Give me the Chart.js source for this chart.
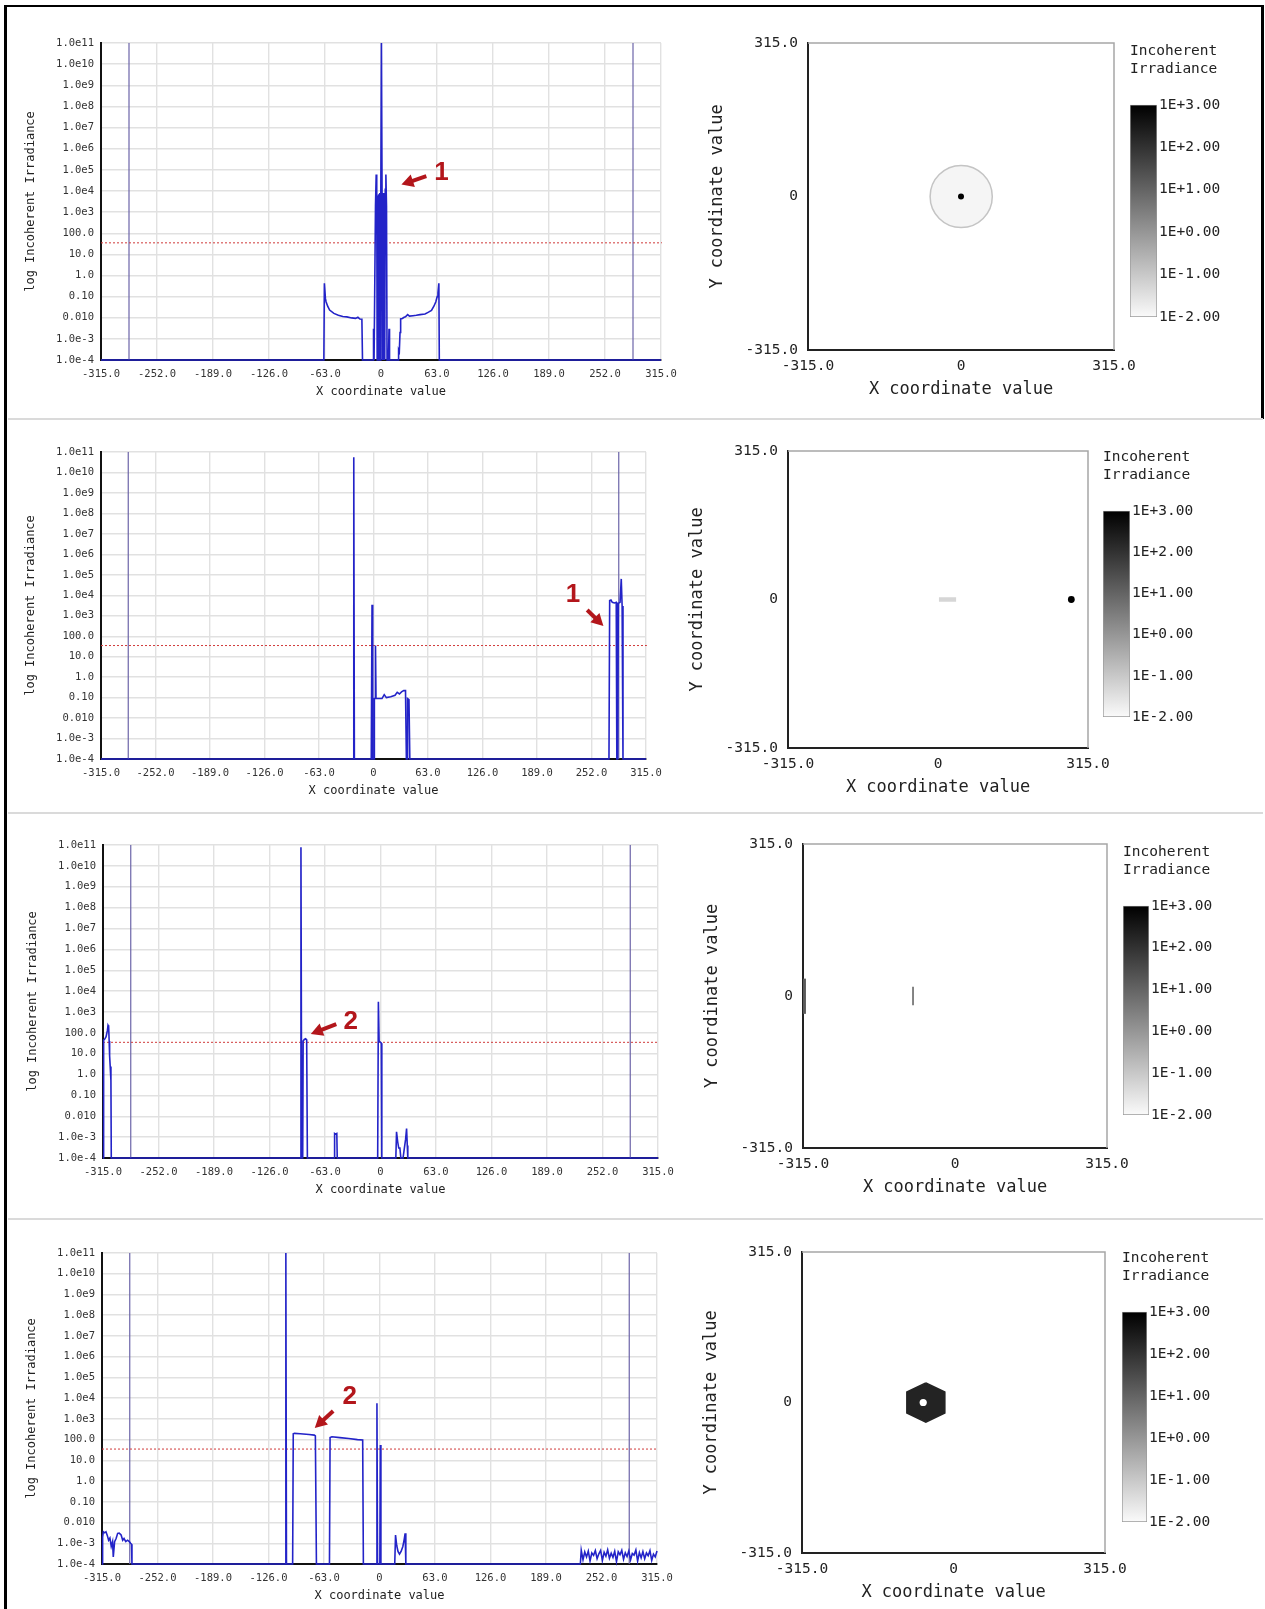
<!DOCTYPE html>
<html>
<head>
<meta charset="utf-8">
<script src="https://cdn.jsdelivr.net/npm/chart.js@4.4.1/dist/chart.umd.min.js"></script>
<style>
  body { margin: 0; background: #fff; }
  #page { position: relative; width: 1265px; height: 1609px; overflow: hidden; background: #fff; }
  canvas { position: absolute; }
  .rule { position: absolute; background: #000; }
  .sep { position: absolute; left: 8px; width: 1255px; height: 2px; background: #dadada; }
</style>
</head>
<body>
<div id="page">
  <div class="rule" style="left:4px;top:5px;width:3px;height:1604px"></div>
  <div class="rule" style="left:4px;top:5px;width:1260px;height:2px"></div>
  <div class="rule" style="left:1261px;top:5px;width:3px;height:414px"></div>
  <div class="sep" style="top:418px"></div>
  <div class="sep" style="top:812px"></div>
  <div class="sep" style="top:1218px"></div>
</div>
<script>
// ---- axis ticks and labels ----
const xTicks = [-315, -252, -189, -126, -63, 0, 63, 126, 189, 252, 315];
const decadeTicks = [1e-4, 1e-3, 1e-2, 1e-1, 1, 10, 100, 1e3, 1e4, 1e5, 1e6, 1e7, 1e8, 1e9, 1e10, 1e11];
const decadeLabels = ['1.0e-4', '1.0e-3', '0.010', '0.10', '1.0', '10.0', '100.0', '1.0e3', '1.0e4',
  '1.0e5', '1.0e6', '1.0e7', '1.0e8', '1.0e9', '1.0e10', '1.0e11'];
const mapTicks = [-315, 0, 315];
const mapTickLabels = ['-315.0', '0', '315.0'];
const barTicks = [-2, -1, 0, 1, 2, 3];
const barLabels = ['1E-2.00', '1E-1.00', '1E+0.00', '1E+1.00', '1E+2.00', '1E+3.00'];

// vertical aperture lines and the red threshold level (same in every profile)
const apertureX = [-283.5, 283.5];
const thresholdLevel = 35;

// ---- profiles: [x, irradiance] ----
const row1Profile = [
  [-315, 1e-4], [-64.3, 1e-4], [-63.7, 0.43], [-62.5, 0.08], [-61.8, 0.057], [-60, 0.035], [-57.8, 0.023],
  [-53, 0.016], [-48, 0.013], [-43, 0.0115], [-38.4, 0.011], [-33, 0.0098], [-28.6, 0.0093], [-26, 0.0105],
  [-23.7, 0.0087], [-21.5, 0.0085], [-20.8, 1e-4],
  [-9, 1e-4], [-8.4, 0.003], [-7.8, 1e-4], [-6.8, 1e-4], [-6.2, 2e3], [-5.4, 6e4], [-4.8, 1.2e4], [-4.3, 1e-4],
  [-3.8, 6e3], [-3.2, 1e-4], [-2.6, 7e3], [-2.0, 1e-4], [-1.4, 8e3], [-0.8, 1e-4], [-0.2, 8e3], [0.5, 1e11],
  [1.2, 8e3], [1.8, 1e-4], [2.4, 8e3], [3.0, 1e-4], [3.6, 7e3], [4.2, 1e-4], [4.8, 1.2e4], [5.5, 6e4],
  [6.2, 2e3], [6.8, 1e-4], [8.4, 1e-4], [9, 0.003], [9.6, 1e-4],
  [19.2, 1e-4], [19.8, 0.0003], [20.6, 0.00025], [21.4, 0.002], [22.1, 0.0088], [24, 0.0092], [26, 0.0105],
  [27.5, 0.011], [30, 0.014], [32, 0.012], [36, 0.0125], [39.7, 0.013], [44, 0.014], [49.5, 0.015],
  [53, 0.018], [56.8, 0.022], [59.5, 0.035], [61.7, 0.057], [63.2, 0.1], [64.1, 0.15], [65.1, 0.43],
  [65.6, 1e-4], [315, 1e-4]
];
const row2Profile = [
  [-315, 1e-4], [-23.6, 1e-4], [-22.8, 5.5e10], [-22.1, 1e-4], [-2.6, 1e-4], [-1.7, 3.4e3], [-0.9, 1e-4],
  [0.6, 1e-4], [1.0, 0.09], [1.8, 0.09], [2.3, 35], [2.9, 0.09], [4.9, 0.09], [9.8, 0.09], [12.4, 0.14],
  [14.9, 0.1], [19.9, 0.11], [24.9, 0.13], [27.4, 0.18], [30, 0.15], [32.4, 0.19], [34.9, 0.22], [37, 0.22],
  [38, 1e-4], [38.8, 1e-4], [39.4, 0.09], [41, 0.08], [42, 1e-4],
  [272.2, 1e-4], [273, 5.5e3], [274.5, 5.9e3], [276, 4.5e3], [278.5, 4.2e3], [280.6, 4.5e3], [281.3, 1e-4],
  [282.2, 1e-4], [283, 4e3], [285, 4.5e3], [286.4, 6.3e4], [287.4, 3e3], [288.4, 1e-4], [315, 1e-4]
];
const row3Profile = [
  [-315, 1e-4], [-314.3, 45], [-313, 50], [-311.5, 65], [-310, 130], [-309.3, 230], [-308.6, 200],
  [-308, 40], [-307.5, 8], [-306.8, 2.4], [-306, 0.5], [-305.6, 1e-4],
  [-91, 1e-4], [-90.3, 7.8e10], [-89.4, 1e-4], [-88.3, 1e-4], [-87.8, 40], [-86.5, 48], [-85, 52],
  [-83.8, 46], [-83, 1e-4],
  [-52.6, 1e-4], [-52.1, 0.0015], [-51, 0.0014], [-49.6, 0.0015], [-49.1, 1e-4],
  [-3.2, 1e-4], [-2.4, 3.1e3], [-1.6, 40], [0.9, 32], [1.5, 1e-4],
  [17.4, 1e-4], [18.2, 0.0018], [19.5, 0.0006], [20.7, 0.0003], [22, 0.0003], [23.1, 1e-4], [25.6, 1e-4],
  [27.1, 0.0003], [28.5, 0.0008], [29.6, 0.0026], [30.4, 0.0004], [31, 1e-4], [315, 1e-4]
];
const row4Profile = [
  [-315, 1e-4], [-314.3, 0.002], [-313.5, 0.0036], [-312, 0.0032], [-310.5, 0.0036], [-309, 0.0024],
  [-307.5, 0.0014], [-306, 0.0018], [-304.5, 0.0007], [-303, 0.0012], [-302.2, 0.00022], [-300.7, 0.0012],
  [-299, 0.0017], [-297.2, 0.003], [-295.5, 0.0031], [-293.3, 0.0025], [-291.5, 0.0014], [-290, 0.0017],
  [-288, 0.0012], [-286, 0.0014], [-284, 0.0012], [-282.5, 0.001], [-281.5, 0.0009], [-281, 1e-4],
  [-107, 1e-4], [-106.3, 1e11], [-105.6, 1e-4],
  [-98.6, 1e-4], [-97.9, 190], [-96.5, 200], [-90, 190], [-80, 175], [-74, 165], [-72.8, 150], [-71.6, 1e-4],
  [-56.8, 1e-4], [-56.1, 125], [-54, 138], [-45, 125], [-35, 112], [-25, 100], [-19.1, 95], [-18.3, 1e-4],
  [-3.6, 1e-4], [-2.9, 5.6e3], [-2.2, 1e-4], [0.4, 1e-4], [1.0, 55], [1.6, 1e-4],
  [17.3, 1e-4], [18.2, 0.0025], [19.5, 0.0008], [21, 0.0004], [22.7, 0.0003], [24.5, 0.0004], [26.5, 0.0007],
  [28, 0.0015], [29.1, 0.003], [29.9, 1e-4], [228, 1e-4],
  [229, 4.6e-4], [231, 1.6e-4], [233, 3.8e-4], [235, 2.2e-4], [237, 4.2e-4], [239, 1.4e-4], [241, 3.4e-4],
  [243, 2.6e-4], [245, 4.4e-4], [247, 1.8e-4], [249, 3.1e-4], [251, 4.5e-4], [253, 1.5e-4], [255, 3.7e-4],
  [257, 2.4e-4], [259, 4.8e-4], [261, 1.9e-4], [263, 3.3e-4], [265, 2.1e-4], [267, 4.1e-4], [269, 1.3e-4],
  [271, 3.9e-4], [273, 2.8e-4], [275, 4.6e-4], [277, 1.7e-4], [279, 3.5e-4], [281, 2.3e-4], [283, 4.3e-4],
  [285, 1.6e-4], [287, 3.2e-4], [289, 2.7e-4], [291, 4.7e-4], [293, 1.4e-4], [295, 3.6e-4], [297, 2.0e-4],
  [299, 4.0e-4], [301, 1.8e-4], [303, 3.4e-4], [305, 2.5e-4], [307, 4.4e-4], [309, 1.5e-4], [311, 3.0e-4],
  [313, 2.2e-4], [315, 4.2e-4]
];

// ---- irradiance maps (x, y in the same units) ----
const row1RingCenter = [0.4, 0];
const row1RingRadius = 64;
const row1Spot = [0, 0];
const row2Streak = [[2, 0], [38, 0]];
const row2Spot = [280, 0];
const row3EdgeLine = [[-312, -37], [-312, 36]];
const row3Line = [[-87, -19], [-87, 19]];
const row4Hexagon = [[-57.5, 41], [-18, 22], [-18, -22], [-57.5, -41], [-97, -22], [-97, 22], [-57.5, 41]];
const row4HoleCenter = [-63, 0];
const row4HoleRadius = 7.5;

// red callouts: label, label position, arrow tail, arrow tip  ([x, log10 value])
const callouts = [
  { label: '1', at: [68, 4.85], tail: [51, 4.7], tip: [23, 4.3] },
  { label: '1', at: [230.5, 4.01], tail: [247, 3.28], tip: [265.8, 2.5] },
  { label: '2', at: [-33.7, 2.52], tail: [-50.2, 2.42], tip: [-79.1, 1.94] },
  { label: '2', at: [-33.9, 4.05], tail: [-52.6, 3.38], tip: [-73.5, 2.56] }
];

const mono = "'DejaVu Sans Mono', monospace";
const page = document.getElementById('page');

function makeCanvas(left, top, width, height) {
  const c = document.createElement('canvas');
  c.width = width; c.height = height;
  c.style.left = left + 'px'; c.style.top = top + 'px';
  c.style.width = width + 'px'; c.style.height = height + 'px';
  page.appendChild(c);
  return c;
}

const pts = arr => arr.map(p => ({ x: p[0], y: p[1] }));
const unitPx = (chart, r) => chart.scales && chart.scales.x
  ? Math.abs(chart.scales.x.getPixelForValue(r) - chart.scales.x.getPixelForValue(0)) : 0;

const calloutPlugin = {
  id: 'callout',
  afterDatasetsDraw(chart, args, opts) {
    if (!opts || !opts.label) return;
    const { ctx, scales: { x, y } } = chart;
    const px = p => [x.getPixelForValue(p[0]), y.getPixelForValue(Math.pow(10, p[1]))];
    const [tx, ty] = px(opts.tail), [hx, hy] = px(opts.tip), [lx, ly] = px(opts.at);
    const a = Math.atan2(hy - ty, hx - tx);
    const c = Math.cos(a), s = Math.sin(a);
    ctx.save();
    ctx.strokeStyle = ctx.fillStyle = '#b3161b';
    ctx.lineWidth = 4;
    ctx.beginPath(); ctx.moveTo(tx, ty); ctx.lineTo(hx - 8 * c, hy - 8 * s); ctx.stroke();
    ctx.beginPath(); ctx.moveTo(hx, hy);
    ctx.lineTo(hx - 12 * c + 6.5 * s, hy - 12 * s - 6.5 * c);
    ctx.lineTo(hx - 12 * c - 6.5 * s, hy - 12 * s + 6.5 * c);
    ctx.closePath(); ctx.fill();
    ctx.font = "bold 26px 'Liberation Sans', Arial, sans-serif";
    ctx.textAlign = 'center'; ctx.textBaseline = 'middle';
    ctx.fillText(opts.label, lx, ly);
    ctx.restore();
  }
};

const frameEdges = {
  id: 'frameEdges',
  afterDraw(chart) {
    const { ctx, chartArea: a } = chart;
    ctx.save();
    ctx.strokeStyle = '#a6a6a6'; ctx.lineWidth = 1.5;
    ctx.beginPath(); ctx.moveTo(a.left, a.top); ctx.lineTo(a.right, a.top); ctx.lineTo(a.right, a.bottom);
    ctx.stroke();
    ctx.restore();
  }
};

// left: log profile along X
function profileChart(rect, profile, callout) {
  const [L, T, R, B] = rect;
  const yw = 81, xh = 43, padT = 15, padR = 30;
  const cv = makeCanvas(L - yw, T - padT, R - L + yw + padR, B - T + padT + xh);
  const datasets = [
    { data: pts(profile), borderColor: '#2323c8', borderWidth: 1.6, pointRadius: 0, showLine: true, clip: false },
    { data: [{ x: -315, y: thresholdLevel }, { x: 316, y: thresholdLevel }], borderColor: '#d03a3a',
      borderWidth: 1, borderDash: [2, 2], pointRadius: 0, showLine: true, clip: false }
  ];
  apertureX.forEach(x => datasets.push({ data: [{ x, y: 1e-4 }, { x, y: 1e11 }], borderColor: '#6c64a8',
    borderWidth: 1.2, pointRadius: 0, showLine: true }));
  new Chart(cv, {
    type: 'scatter',
    data: { datasets },
    options: {
      responsive: false, animation: false, events: [],
      layout: { padding: { top: padT, right: padR, left: 0, bottom: 0 } },
      plugins: { legend: { display: false }, tooltip: { enabled: false }, callout },
      scales: {
        x: {
          type: 'linear', min: -315, max: 315,
          afterBuildTicks: s => { s.ticks = xTicks.map(v => ({ value: v })); },
          afterFit: s => { s.height = xh; s.paddingLeft = 0; s.paddingRight = 0; },
          ticks: { callback: v => v === 0 ? '0' : v.toFixed(1), font: { family: mono, size: 10.5 },
            color: '#333', padding: 8, maxRotation: 0, minRotation: 0, autoSkip: false },
          grid: { color: '#e1e1e1', lineWidth: 1.4, drawTicks: false },
          border: { color: '#111', width: 2 },
          title: { display: true, text: 'X coordinate value', font: { family: mono, size: 12 }, color: '#222' }
        },
        y: {
          type: 'logarithmic', min: 1e-4, max: 1e11,
          afterBuildTicks: s => { s.ticks = decadeTicks.map(v => ({ value: v })); },
          afterFit: s => { s.width = yw; s.paddingTop = 0; s.paddingBottom = 0; },
          ticks: { callback: (v, i) => decadeLabels[i], font: { family: mono, size: 10.5 },
            color: '#333', padding: 7, autoSkip: false },
          grid: { color: '#e1e1e1', lineWidth: 1.4, drawTicks: false },
          border: { color: '#111', width: 2 },
          title: { display: true, text: 'log Incoherent Irradiance', font: { family: mono, size: 12 }, color: '#222' }
        }
      }
    },
    plugins: [calloutPlugin]
  });
}

// right: irradiance map
function mapChart(rect, datasets) {
  const [L, T, R, B] = rect;
  const yw = 105, xh = 54, padT = 15, padR = 30;
  const cv = makeCanvas(L - yw, T - padT, R - L + yw + padR, B - T + padT + xh);
  const axis = (title, pad) => ({
    type: 'linear', min: -315, max: 315,
    afterBuildTicks: s => { s.ticks = mapTicks.map(v => ({ value: v })); },
    ticks: { callback: (v, i) => mapTickLabels[i], font: { family: mono, size: 14.5 }, color: '#222',
      padding: pad, maxRotation: 0, minRotation: 0, autoSkip: false },
    grid: { display: false, drawTicks: false },
    border: { color: '#222', width: 2 },
    title: { display: true, text: title, font: { family: mono, size: 17 }, color: '#222' }
  });
  const x = axis('X coordinate value', 8);
  x.afterFit = s => { s.height = xh; s.paddingLeft = 0; s.paddingRight = 0; };
  const y = axis('Y coordinate value', 10);
  y.afterFit = s => { s.width = yw; s.paddingTop = 0; s.paddingBottom = 0; };
  new Chart(cv, {
    type: 'scatter',
    data: { datasets },
    options: {
      responsive: false, animation: false, events: [],
      layout: { padding: { top: padT, right: padR, left: 0, bottom: 0 } },
      plugins: { legend: { display: false }, tooltip: { enabled: false } },
      scales: { x, y }
    },
    plugins: [frameEdges]
  });
}

// colour bar
function colorBar(rect) {
  const [L, T, R, B] = rect;
  const yw = 80, padT = 62, padB = 12;
  const cv = makeCanvas(L, T - padT, R - L + yw, B - T + padT + padB);
  new Chart(cv, {
    type: 'bar',
    data: {
      labels: [''],
      datasets: [{
        data: [[barTicks[0], barTicks[barTicks.length - 1]]],
        backgroundColor: ctx => {
          const area = ctx.chart.chartArea;
          if (!area) return '#888';
          const g = ctx.chart.ctx.createLinearGradient(0, area.bottom, 0, area.top);
          g.addColorStop(0, '#fafafa');
          g.addColorStop(1, '#000');
          return g;
        },
        borderColor: '#9a9a9a', borderWidth: 1, borderSkipped: false,
        barPercentage: 1, categoryPercentage: 1
      }]
    },
    options: {
      responsive: false, animation: false, events: [],
      layout: { padding: { top: 0, right: 0, left: 0, bottom: padB } },
      plugins: {
        legend: { display: false }, tooltip: { enabled: false },
        title: { display: true, text: ['Incoherent', 'Irradiance'], align: 'start', color: '#222',
          font: { family: mono, size: 14.5, weight: 'normal' }, padding: { top: 0, bottom: 27 } }
      },
      scales: {
        x: { display: false },
        y: {
          position: 'right', min: -2, max: 3,
          afterBuildTicks: s => { s.ticks = barTicks.map(v => ({ value: v })); },
          afterFit: s => { s.width = yw; s.paddingTop = 0; s.paddingBottom = 0; },
          ticks: { callback: (v, i) => barLabels[i], font: { family: mono, size: 14.5 }, color: '#222', padding: 2 },
          grid: { display: false, drawTicks: false }, border: { display: false }
        }
      }
    }
  });
}

const spot = (p, r) => ({ data: pts([p]), pointRadius: r, pointBackgroundColor: '#000', pointBorderWidth: 0 });
const segment = (arr, color, w) => ({ data: pts(arr), showLine: true, borderColor: color, borderWidth: w, pointRadius: 0 });

const rows = [
  { plot: [101, 43, 661, 360], map: [808, 43, 1114, 350], bar: [1130, 105, 1157, 317], profile: row1Profile,
    marks: [
      spot(row1Spot, 3),
      { data: pts([row1RingCenter]), pointRadius: ctx => unitPx(ctx.chart, row1RingRadius),
        pointBackgroundColor: '#f5f5f5', pointBorderColor: '#c4c4c4', pointBorderWidth: 1.5 }
    ] },
  { plot: [101, 452, 646, 759], map: [788, 451, 1088, 748], bar: [1103, 511, 1130, 717], profile: row2Profile,
    marks: [spot(row2Spot, 3.4), segment(row2Streak, '#d6d6d6', 4.5)] },
  { plot: [103, 845, 658, 1158], map: [803, 844, 1107, 1148], bar: [1123, 906, 1149, 1115], profile: row3Profile,
    marks: [segment(row3EdgeLine, '#5a5a5a', 3), segment(row3Line, '#666', 1.6)] },
  { plot: [102, 1253, 657, 1564], map: [802, 1252, 1105, 1553], bar: [1122, 1312, 1147, 1522], profile: row4Profile,
    marks: [
      { data: pts([row4HoleCenter]), pointRadius: ctx => unitPx(ctx.chart, row4HoleRadius),
        pointBackgroundColor: '#fff', pointBorderWidth: 0 },
      { data: pts(row4Hexagon), showLine: true, fill: 'shape', backgroundColor: '#232323',
        borderColor: '#232323', borderWidth: 1.5, pointRadius: 0 }
    ] }
];

rows.forEach((row, i) => {
  profileChart(row.plot, row.profile, callouts[i]);
  mapChart(row.map, row.marks);
  colorBar(row.bar);
});
</script>
</body>
</html>
